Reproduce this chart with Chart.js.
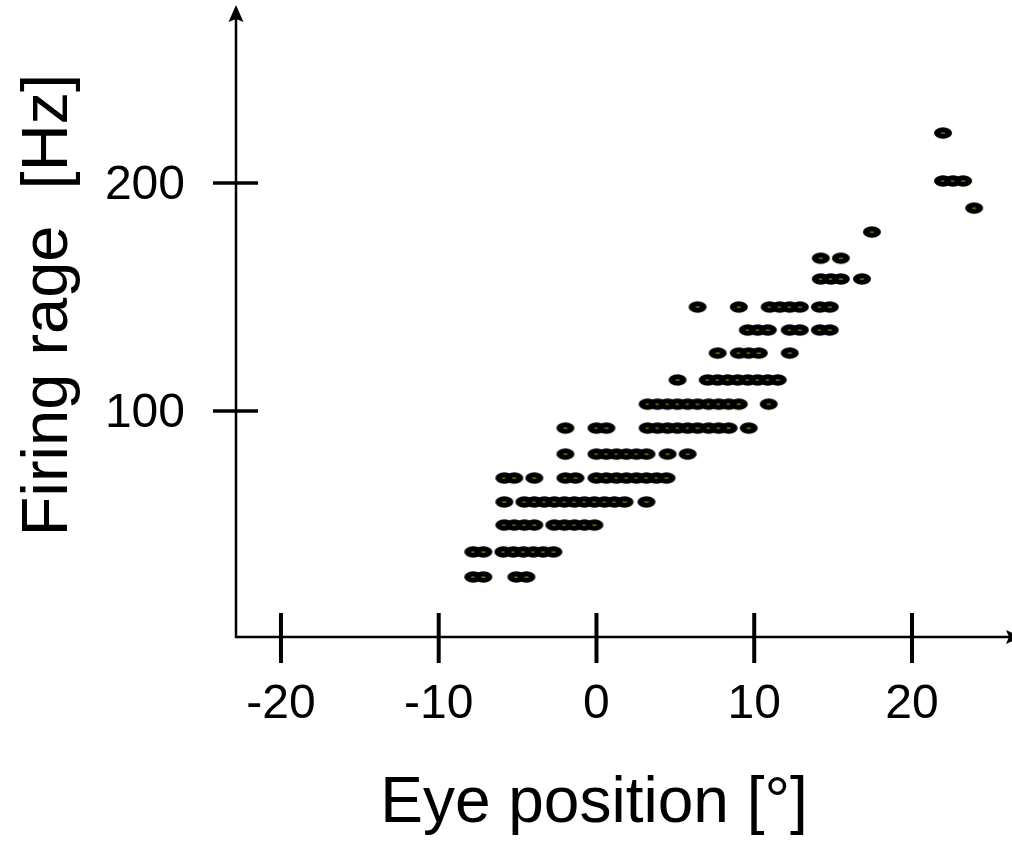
<!DOCTYPE html>
<html>
<head>
<meta charset="utf-8">
<script src="https://cdn.jsdelivr.net/npm/chart.js@4/dist/chart.umd.min.js"></script>
<style>
    html, body { margin: 0; padding: 0; background: #fff; overflow: hidden; }
    #wrap { width: 1012px; height: 845px; position: relative; }
    #rateChart { display: block; }
</style>
</head>
<body>
<div id="wrap"><canvas id="rateChart"></canvas></div>
<script>
// firing rate rows [Hz]
const rates = [27.2, 38.2, 50.0, 60.1, 70.6, 81.1, 92.5, 103.0, 113.6, 125.4, 135.5, 145.6, 157.9, 167.0, 178.5, 189.0, 200.9, 221.9];

// eye positions [deg] for each rate row
const eyePositions = [
    [-7.81, -7.17, -5.08, -4.44],
    [-7.81, -7.17, -5.90, -5.27, -4.63, -4.00, -3.37, -2.73],
    [-5.84, -5.21, -4.57, -3.94, -2.67, -2.03, -1.40, -0.76, -0.13],
    [-5.84, -4.57, -3.94, -3.30, -2.67, -2.03, -1.40, -0.76, -0.13, 0.51, 1.14, 1.78, 3.17],
    [-5.84, -5.21, -3.94, -1.97, -1.33, 0.00, 0.63, 1.27, 1.90, 2.54, 3.17, 3.81, 4.44],
    [-1.97, 0.00, 0.63, 1.27, 1.90, 2.54, 3.17, 4.51, 5.78],
    [-1.97, 0.00, 0.63, 3.24, 3.87, 4.51, 5.14, 5.78, 6.41, 7.11, 7.75, 8.38, 9.65],
    [3.24, 3.87, 4.51, 5.14, 5.78, 6.41, 7.11, 7.75, 8.38, 9.02, 10.92],
    [5.14, 7.05, 7.68, 8.32, 8.95, 9.59, 10.22, 10.86, 11.49],
    [7.68, 9.02, 9.65, 10.29, 12.25],
    [9.59, 10.22, 10.86, 12.25, 12.89, 14.16, 14.79],
    [6.41, 9.02, 10.98, 11.62, 12.25, 12.89, 14.16, 14.79],
    [14.22, 14.86, 15.49, 16.83],
    [14.22, 15.49],
    [17.46],
    [23.94],
    [21.97, 22.60, 23.24],
    [21.97]
];

const xTicks = [-20, -10, 0, 10, 20];
const yTicks = [100, 200];
const xTitle = 'Eye position [°]';
const yTitle = 'Firing rage  [Hz]';

const FONT = '"Liberation Sans", Arial, Helvetica, sans-serif';

// build points
const points = [];
rates.forEach((r, i) => {
    eyePositions[i].forEach(x => points.push({ x: x, y: r }));
});

// black oval marker with a small olive dash in the middle
const dot = document.createElement('canvas');
dot.width = 20;
dot.height = 14;
(function () {
    const c = dot.getContext('2d');
    c.fillStyle = '#000';
    c.beginPath();
    c.ellipse(10, 7, 9, 5.8, 0, 0, Math.PI * 2);
    c.fill();
    c.fillStyle = '#8a8a10';
    c.fillRect(8, 6.5, 4, 1.2);
})();

// axes with arrows and crossing ticks
const axesPlugin = {
    id: 'axesPlugin',
    afterDraw(chart) {
        const ctx = chart.ctx;
        const xs = chart.scales.x;
        const ys = chart.scales.y;
        const area = chart.chartArea;
        const x0 = area.left;
        const y0 = area.bottom;

        ctx.save();
        ctx.strokeStyle = '#000';
        ctx.fillStyle = '#000';

        // axis lines
        ctx.lineWidth = 2.5;
        ctx.beginPath();
        ctx.moveTo(x0, y0 + 1);
        ctx.lineTo(x0, area.top + 10);
        ctx.moveTo(x0 - 1, y0);
        ctx.lineTo(area.right + 10, y0);
        ctx.stroke();

        // y arrow
        ctx.beginPath();
        ctx.moveTo(x0, area.top - 3);
        ctx.lineTo(x0 - 7.5, area.top + 14);
        ctx.lineTo(x0, area.top + 11);
        ctx.lineTo(x0 + 7.5, area.top + 14);
        ctx.closePath();
        ctx.fill();

        // x arrow (mostly off canvas)
        ctx.beginPath();
        ctx.moveTo(area.right + 9, y0);
        ctx.lineTo(area.right - 6, y0 - 7);
        ctx.lineTo(area.right - 3, y0);
        ctx.lineTo(area.right - 6, y0 + 7);
        ctx.closePath();
        ctx.fill();

        // x ticks
        ctx.lineWidth = 4;
        ctx.font = '48px ' + FONT;
        ctx.textAlign = 'center';
        ctx.textBaseline = 'alphabetic';
        xTicks.forEach(v => {
            const px = xs.getPixelForValue(v);
            ctx.beginPath();
            ctx.moveTo(px, y0 - 24);
            ctx.lineTo(px, y0 + 26);
            ctx.stroke();
            ctx.fillText(String(v), px, y0 + 81);
        });

        // y ticks
        ctx.lineWidth = 3.5;
        ctx.textAlign = 'right';
        yTicks.forEach(v => {
            const py = ys.getPixelForValue(v);
            ctx.beginPath();
            ctx.moveTo(x0 - 23, py);
            ctx.lineTo(x0 + 22, py);
            ctx.stroke();
            ctx.fillText(String(v), x0 - 51, py + 16);
        });

        // titles
        ctx.font = '64px ' + FONT;
        ctx.textAlign = 'center';
        ctx.fillText(xTitle, 594, 822);

        ctx.font = '65px ' + FONT;
        ctx.translate(67, 305);
        ctx.rotate(-Math.PI / 2);
        ctx.fillText(yTitle, 0, 0);

        ctx.restore();
    }
};

new Chart(document.getElementById('rateChart').getContext('2d'), {
    type: 'scatter',
    data: {
        datasets: [{
            data: points,
            pointStyle: dot,
            pointRadius: 9,
            pointHoverRadius: 9
        }]
    },
    options: {
        responsive: true,
        maintainAspectRatio: false,
        animation: false,
        events: [],
        layout: { autoPadding: false, padding: { left: 236, top: 8, right: 0, bottom: 208 } },
        plugins: {
            legend: { display: false },
            tooltip: { enabled: false }
        },
        scales: {
            x: { type: 'linear', display: false, min: -22.85, max: 26.34 },
            y: { type: 'linear', display: false, min: 0.88, max: 276.75 }
        }
    },
    plugins: [axesPlugin]
});
</script>
</body>
</html>
